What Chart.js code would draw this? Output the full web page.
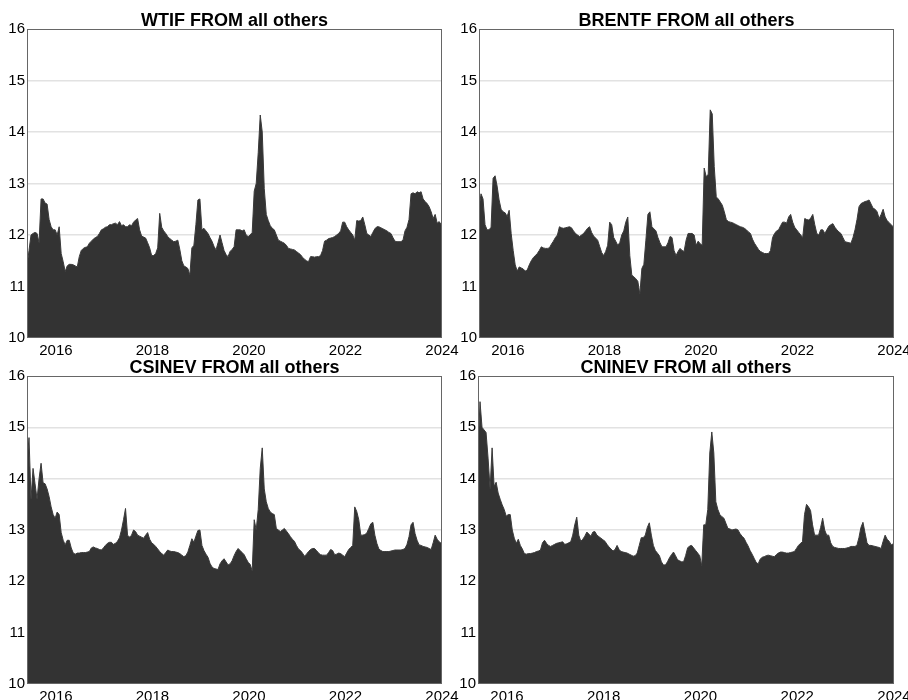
<!DOCTYPE html>
<html>
<head>
<meta charset="utf-8">
<script src="https://cdn.jsdelivr.net/npm/chart.js@4"></script>
<style>
  html, body { margin: 0; padding: 0; background: #fff; overflow: hidden; }
  #wrap { position: relative; width: 908px; height: 700px; }
  canvas { position: absolute; }
</style>
</head>
<body>
<div id="wrap">
  <canvas id="c1"></canvas>
  <canvas id="c2"></canvas>
  <canvas id="c3"></canvas>
  <canvas id="c4"></canvas>
</div>
<script>
// half-monthly sample points, decimal years
const years = Array.from({ length: 207 }, (_, i) => 2015.4 + i / 24);
const xTicks = [2016, 2018, 2020, 2022, 2024];
const yTicks = [10, 11, 12, 13, 14, 15, 16];

const wtif = [
  11.4, 11.7, 12.0, 12.03, 12.05, 12.03, 11.85, 12.7, 12.7, 12.62,
  12.6, 12.3, 12.16, 12.1, 12.1, 12.0, 12.16, 11.64, 11.48, 11.29,
  11.4, 11.43, 11.43, 11.42, 11.4, 11.38, 11.58, 11.7, 11.74, 11.76,
  11.77, 11.84, 11.88, 11.92, 11.95, 11.97, 12.03, 12.1, 12.12, 12.15,
  12.16, 12.2, 12.2, 12.22, 12.23, 12.2, 12.26, 12.18, 12.2, 12.16,
  12.16, 12.2, 12.18, 12.25, 12.29, 12.32, 12.1, 11.98, 11.96, 11.94,
  11.85, 11.75, 11.6, 11.6, 11.64, 11.75, 12.42, 12.15, 12.08, 12.03,
  11.97, 11.93, 11.9, 11.87, 11.88, 11.9, 11.72, 11.5, 11.4, 11.38,
  11.35, 11.22, 11.75, 11.8, 12.2, 12.68, 12.7, 12.1, 12.13, 12.08,
  12.03, 11.95, 11.88, 11.78, 11.71, 11.85, 12.0, 11.85, 11.7, 11.62,
  11.58, 11.68, 11.72, 11.77, 12.1, 12.1, 12.1, 12.08, 12.1, 12.0,
  11.97, 12.0, 12.05, 12.85, 13.0, 13.6, 14.33, 14.0, 12.9, 12.4,
  12.28, 12.18, 12.13, 12.1, 12.0, 11.9, 11.88, 11.86, 11.84, 11.8,
  11.74, 11.73, 11.72, 11.71, 11.68, 11.65, 11.62, 11.57, 11.53, 11.5,
  11.48, 11.58, 11.58, 11.57, 11.58, 11.58, 11.6, 11.7, 11.88, 11.9,
  11.93, 11.94, 11.95, 11.97, 12.0, 12.03, 12.08, 12.25, 12.25, 12.16,
  12.1, 12.05, 12.0, 11.9, 12.28, 12.27, 12.28, 12.35, 12.2, 12.03,
  12.0, 11.97, 12.05, 12.12, 12.16, 12.16, 12.14, 12.12, 12.1, 12.08,
  12.05, 12.03, 11.95, 11.88, 11.87, 11.87, 11.87, 11.9, 12.08, 12.15,
  12.3, 12.8, 12.82, 12.8, 12.84, 12.82, 12.84, 12.7, 12.65, 12.61,
  12.55, 12.45, 12.32, 12.4, 12.23, 12.26, 12.2
];
const brentf = [
  12.5, 12.8, 12.7, 12.2, 12.1, 12.1, 12.15, 13.1, 13.15, 12.95,
  12.68, 12.5, 12.45, 12.43, 12.36, 12.48, 12.03, 11.7, 11.42, 11.3,
  11.38, 11.36, 11.34, 11.3, 11.32, 11.42, 11.5, 11.56, 11.6, 11.64,
  11.7, 11.77, 11.75, 11.74, 11.74, 11.75, 11.82, 11.88, 11.95, 12.0,
  12.16, 12.14, 12.13, 12.14, 12.15, 12.16, 12.14, 12.08, 12.03, 12.0,
  11.97, 12.0, 12.03, 12.08, 12.13, 12.16, 12.05, 11.98, 11.94, 11.9,
  11.78, 11.66, 11.6, 11.68, 11.8, 12.25, 12.2, 11.95, 11.88, 11.8,
  11.85, 12.0, 12.08, 12.25, 12.35, 11.6, 11.22, 11.19, 11.15, 11.1,
  10.85, 11.35, 11.43, 11.9, 12.4, 12.45, 12.16, 12.12, 12.08, 11.95,
  11.85, 11.77, 11.77, 11.77, 11.85, 11.97, 11.95, 11.7, 11.6, 11.68,
  11.74, 11.7, 11.68, 11.9, 12.03, 12.03, 12.03, 12.0, 11.8, 11.88,
  11.83, 11.8, 13.3, 13.13, 13.18, 14.43, 14.35, 13.33, 12.74, 12.7,
  12.64, 12.58, 12.45, 12.3, 12.26, 12.25, 12.24, 12.22, 12.2, 12.18,
  12.16, 12.15, 12.13, 12.1, 12.06, 12.03, 11.92, 11.84, 11.78, 11.72,
  11.68, 11.66, 11.64, 11.64, 11.64, 11.7, 11.95, 12.03, 12.08, 12.1,
  12.18, 12.25, 12.25, 12.23, 12.35, 12.4, 12.25, 12.15, 12.1, 12.05,
  12.0, 11.95, 12.32, 12.3, 12.29, 12.33, 12.4, 12.2, 12.03, 12.0,
  12.1, 12.1, 12.03, 12.1, 12.17, 12.2, 12.22, 12.15, 12.1, 12.06,
  12.03, 11.95, 11.87, 11.86, 11.85, 11.84, 11.95, 12.1, 12.3, 12.55,
  12.61, 12.63, 12.65, 12.66, 12.68, 12.6, 12.52, 12.5, 12.45, 12.32,
  12.4, 12.5, 12.35, 12.28, 12.24, 12.2, 12.16
];
const csinev = [
  14.3, 14.8, 13.6, 14.2, 13.9, 13.6, 14.0, 14.3, 13.92, 13.9,
  13.8, 13.65, 13.45, 13.3, 13.23, 13.35, 13.3, 12.95, 12.8, 12.71,
  12.8, 12.8, 12.65, 12.55, 12.53, 12.55, 12.55, 12.56, 12.56, 12.56,
  12.57, 12.58, 12.65, 12.67, 12.65, 12.64, 12.62, 12.61, 12.65, 12.7,
  12.74, 12.76, 12.76, 12.72, 12.74, 12.78, 12.85, 13.0, 13.2, 13.42,
  12.9, 12.86, 12.9, 13.0, 12.97, 12.9, 12.88, 12.86, 12.84, 12.9,
  12.95, 12.82, 12.75, 12.72, 12.68, 12.63, 12.58, 12.54, 12.51, 12.56,
  12.61, 12.59, 12.58, 12.58, 12.57, 12.56, 12.54, 12.51, 12.48, 12.5,
  12.57, 12.7, 12.83, 12.76, 12.88, 12.99, 13.0, 12.7, 12.6, 12.53,
  12.47, 12.35, 12.28, 12.25, 12.24, 12.23, 12.34, 12.4, 12.44, 12.38,
  12.32, 12.34, 12.4, 12.5, 12.58, 12.64, 12.6, 12.56, 12.52, 12.44,
  12.37, 12.33, 12.2, 13.2, 13.0, 13.4, 14.2, 14.6, 13.8, 13.55,
  13.42, 13.35, 13.32, 13.3, 13.03, 13.0, 12.97, 13.0, 13.03, 12.98,
  12.93, 12.87, 12.82, 12.78, 12.7, 12.63, 12.6, 12.55, 12.49, 12.53,
  12.58, 12.62, 12.64, 12.64, 12.6, 12.55, 12.52, 12.51, 12.51, 12.51,
  12.56, 12.62, 12.6, 12.52, 12.53, 12.55, 12.54, 12.51, 12.48, 12.55,
  12.62, 12.66, 12.7, 13.45, 13.36, 13.2, 12.9, 12.9, 12.91, 12.94,
  13.03, 13.12, 13.15, 12.9, 12.74, 12.63, 12.6, 12.58, 12.58, 12.58,
  12.58, 12.59, 12.6, 12.61, 12.61, 12.61, 12.61, 12.62, 12.64, 12.72,
  12.87, 13.1, 13.15, 12.93, 12.8, 12.71, 12.7, 12.68, 12.67, 12.66,
  12.64, 12.62, 12.75, 12.9, 12.82, 12.77, 12.74
];
const cninev = [
  14.5, 15.5, 15.0, 14.95, 14.9, 14.4, 13.8, 14.6, 13.85, 13.93,
  13.72, 13.6, 13.49, 13.4, 13.27, 13.3, 13.3, 13.0, 12.84, 12.74,
  12.82, 12.7, 12.63, 12.54, 12.53, 12.54, 12.54, 12.55, 12.56, 12.58,
  12.59, 12.61, 12.75, 12.8, 12.74, 12.7, 12.68, 12.7, 12.72, 12.74,
  12.75, 12.76, 12.77, 12.72, 12.73, 12.75, 12.77, 12.9, 13.1, 13.25,
  12.9, 12.78, 12.82, 12.88, 12.96, 12.92, 12.88, 12.96, 12.97, 12.9,
  12.87, 12.84, 12.81, 12.78, 12.72, 12.67, 12.63, 12.59, 12.62, 12.7,
  12.62, 12.58, 12.57, 12.56, 12.55, 12.53, 12.51, 12.49, 12.5, 12.55,
  12.7, 12.85, 12.85, 12.9, 13.05, 13.14, 12.9, 12.7, 12.6, 12.55,
  12.5, 12.38, 12.32, 12.32, 12.38, 12.46, 12.52, 12.57, 12.5, 12.42,
  12.4, 12.38, 12.38, 12.5, 12.65, 12.69, 12.7, 12.65, 12.6, 12.55,
  12.5, 12.3, 13.1, 13.1, 13.4, 14.5, 14.91, 14.5, 13.55, 13.4,
  13.3, 13.26, 13.23, 13.13, 13.03, 13.02, 13.0, 13.01, 13.02, 13.0,
  12.93, 12.88, 12.84, 12.76, 12.69, 12.6, 12.53, 12.45, 12.37, 12.34,
  12.43, 12.47, 12.48, 12.5, 12.51, 12.5, 12.49, 12.48, 12.52, 12.55,
  12.57, 12.57, 12.56, 12.55, 12.55, 12.56, 12.57, 12.58, 12.64, 12.7,
  12.74, 12.77, 13.3, 13.5, 13.45, 13.38, 13.1, 12.9, 12.9, 12.9,
  13.05, 13.23, 13.0, 12.9, 12.9, 12.75, 12.68, 12.66, 12.65, 12.64,
  12.64, 12.64, 12.64, 12.65, 12.66, 12.68, 12.68, 12.68, 12.7, 12.85,
  13.05, 13.15, 12.95, 12.75, 12.7, 12.7, 12.69, 12.68, 12.67, 12.66,
  12.64, 12.78, 12.9, 12.82, 12.78, 12.71, 12.73
];

const FONT = 'Arial, "Liberation Sans", sans-serif';

// box around the plot area
const framePlugin = {
  id: 'frame',
  afterDatasetsDraw(chart) {
    const { ctx, chartArea: a } = chart;
    ctx.save();
    ctx.strokeStyle = '#666';
    ctx.lineWidth = 1;
    ctx.strokeRect(a.left + 0.5, a.top + 0.5, a.right - a.left - 1, a.bottom - a.top - 1);
    ctx.restore();
  }
};

function makeChart(id, pos, title, values) {
  const cv = document.getElementById(id);
  cv.style.left = pos.left + 'px';
  cv.style.top = pos.top + 'px';
  cv.width = pos.width;
  cv.height = pos.height;
  cv.style.width = pos.width + 'px';
  cv.style.height = pos.height + 'px';

  return new Chart(cv, {
    type: 'line',
    data: {
      datasets: [{
        data: years.map((x, i) => ({ x, y: values[i] })),
        backgroundColor: '#333333',
        borderColor: '#3a3a3a',
        borderWidth: 1,
        fill: 'start',
        pointRadius: 0,
        tension: 0
      }]
    },
    options: {
      responsive: false,
      animation: false,
      layout: { padding: { left: 0, right: pos.padRight, top: 0, bottom: 0 } },
      plugins: {
        legend: { display: false },
        tooltip: { enabled: false },
        title: {
          display: true,
          text: title,
          fullSize: false,
          color: '#000',
          font: { family: FONT, size: 18, weight: 'bold', lineHeight: 1 },
          padding: { top: 12, bottom: -1 }
        }
      },
      scales: {
        x: {
          type: 'linear',
          min: 2015.4,
          max: 2024.0,
          grid: { display: false, drawTicks: false },
          border: { display: false },
          ticks: {
            color: '#000',
            padding: 4,
            maxRotation: 0,
            font: { family: FONT, size: 15 },
            callback: v => String(v)
          },
          afterBuildTicks: s => { s.ticks = xTicks.map(v => ({ value: v })); },
          afterFit: s => { s.height = 22; s.paddingLeft = 0; s.paddingRight = 0; }
        },
        y: {
          min: 10,
          max: 16,
          grid: {
            drawTicks: false,
            lineWidth: 1.5,
            color: c => (c.tick.value === 10 || c.tick.value === 16) ? 'rgba(0,0,0,0)' : '#e2e2e2'
          },
          border: { display: false },
          ticks: {
            color: '#000',
            padding: 2,
            font: { family: FONT, size: 15 },
            callback: v => String(v)
          },
          afterBuildTicks: s => { s.ticks = yTicks.map(v => ({ value: v })); },
          afterFit: s => { s.width = pos.axisWidth; s.paddingTop = 0; s.paddingBottom = 0; }
        }
      }
    },
    plugins: [framePlugin]
  });
}

window.onload = () => {
  makeChart('c1', { left: 0, top: 0, width: 470, height: 360, axisWidth: 27, padRight: 28 }, 'WTIF FROM all others', wtif);
  makeChart('c2', { left: 454, top: 0, width: 454, height: 360, axisWidth: 25, padRight: 14 }, 'BRENTF FROM all others', brentf);
  makeChart('c3', { left: 0, top: 347, width: 470, height: 359, axisWidth: 27, padRight: 28 }, 'CSINEV FROM all others', csinev);
  makeChart('c4', { left: 454, top: 347, width: 454, height: 359, axisWidth: 24, padRight: 14 }, 'CNINEV FROM all others', cninev);
};
</script>
</body>
</html>
